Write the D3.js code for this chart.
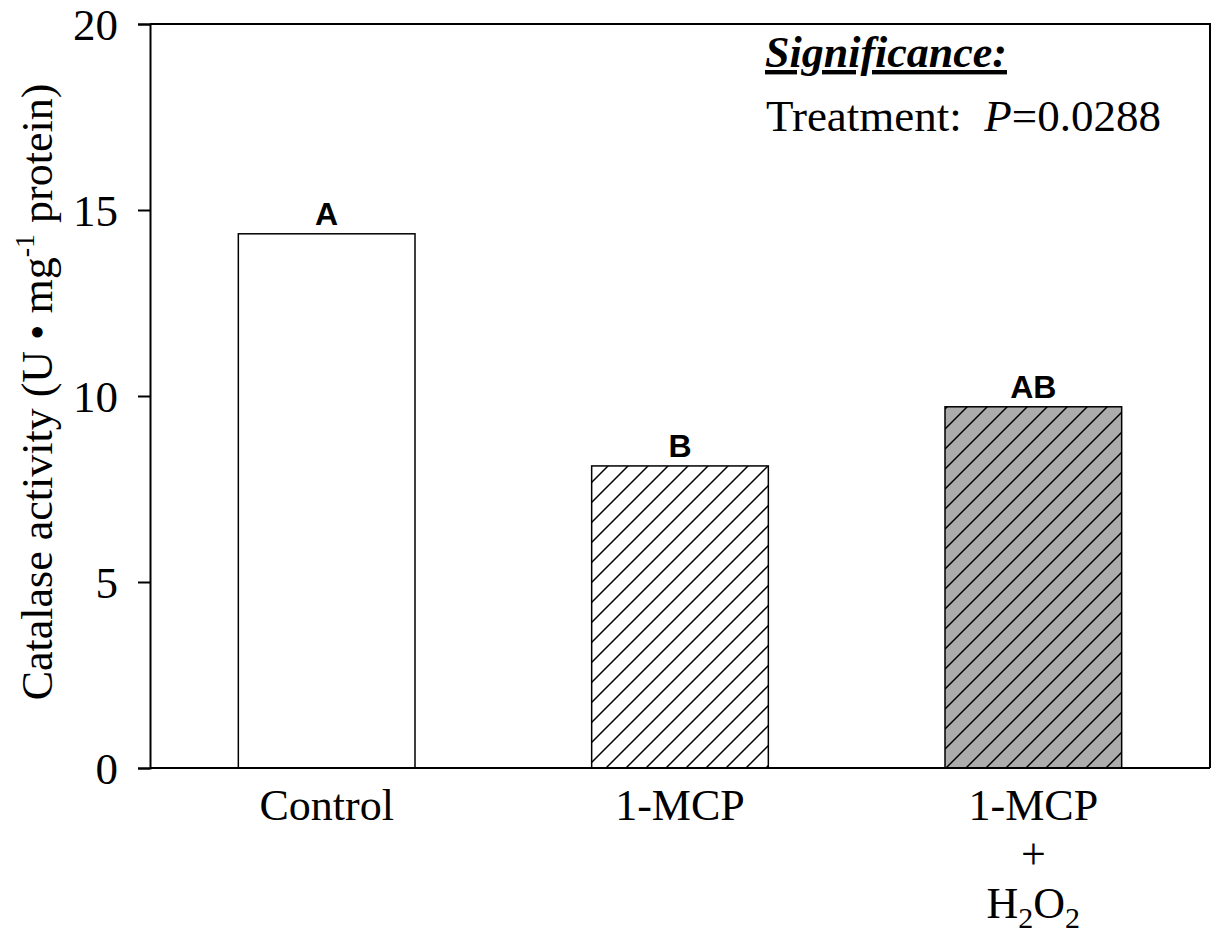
<!DOCTYPE html>
<html>
<head>
<meta charset="utf-8">
<script src="https://cdn.jsdelivr.net/npm/d3@7"></script>
<style>
  body { margin: 0; background: #fff; }
  svg { display: block; }
</style>
</head>
<body>
<div id="chart"></div>
<script>
// Data
const categories = ["Control", "1-MCP", "1-MCP+H2O2"];
const values = [14.36, 8.12, 9.71];
const letters = ["A", "B", "AB"];
const yTicks = [0, 5, 10, 15, 20];

const W = 1212, H = 936;
const margin = { top: 24, right: 2, bottom: 168, left: 150 };
const width = W - margin.left - margin.right;
const height = H - margin.top - margin.bottom;
const serif = "'Liberation Serif', 'Times New Roman', serif";
const sans = "'Liberation Sans', Arial, sans-serif";

const svg = d3.select("#chart").append("svg")
  .attr("width", W)
  .attr("height", H);

// Hatch patterns
const defs = svg.append("defs");
function hatch(id, bg) {
  const p = defs.append("pattern")
    .attr("id", id)
    .attr("patternUnits", "userSpaceOnUse")
    .attr("width", 20)
    .attr("height", 20);
  p.append("rect").attr("width", 20).attr("height", 20).attr("fill", bg);
  p.append("path")
    .attr("d", "M0,20 L20,0 M-5,5 L5,-5 M15,25 L25,15")
    .attr("stroke", "#000")
    .attr("stroke-width", 1.5);
}
hatch("hatchWhite", "#fff");
hatch("hatchGrey", "#acacac");
const fills = ["#fff", "url(#hatchWhite)", "url(#hatchGrey)"];

const g = svg.append("g")
  .attr("transform", `translate(${margin.left},${margin.top})`);

const x = d3.scaleBand()
  .domain(categories)
  .range([0, width])
  .paddingInner(0.5)
  .paddingOuter(0.25);

const y = d3.scaleLinear()
  .domain([0, 20])
  .range([height, 0]);

// Bars
g.selectAll(".bar")
  .data(categories)
  .enter().append("rect")
  .attr("class", "bar")
  .attr("x", d => x(d))
  .attr("y", (d, i) => y(values[i]))
  .attr("width", x.bandwidth())
  .attr("height", (d, i) => y(0) - y(values[i]))
  .attr("fill", (d, i) => fills[i])
  .attr("stroke", "#000")
  .attr("stroke-width", 1.5);

// Significance letters
g.selectAll(".letter")
  .data(categories)
  .enter().append("text")
  .attr("class", "letter")
  .attr("x", d => x(d) + x.bandwidth() / 2)
  .attr("y", (d, i) => y(values[i]) - 9)
  .attr("text-anchor", "middle")
  .style("font-family", sans)
  .style("font-weight", "bold")
  .style("font-size", "32px")
  .text((d, i) => letters[i]);

// Frame (top + right)
g.append("path")
  .attr("d", `M0,0 H${width} V${height}`)
  .attr("fill", "none")
  .attr("stroke", "#000")
  .attr("stroke-width", 2);

// Y axis
const yAxis = g.append("g")
  .call(d3.axisLeft(y).tickValues(yTicks).tickSize(12).tickPadding(20));
yAxis.select(".domain").attr("stroke-width", 2);
yAxis.selectAll(".tick line").attr("stroke-width", 2);
yAxis.selectAll("text")
  .style("font-family", serif)
  .style("font-size", "45px")
  .attr("dy", "0.35em")
  .attr("fill", "#000");

// X axis line
g.append("line")
  .attr("x1", 0).attr("x2", width)
  .attr("y1", height).attr("y2", height)
  .attr("stroke", "#000")
  .attr("stroke-width", 2);

// X category labels
const xl = g.append("g")
  .style("font-family", serif)
  .style("font-size", "44px")
  .attr("text-anchor", "middle");

xl.append("text")
  .attr("x", x("Control") + x.bandwidth() / 2)
  .attr("y", height + 52)
  .text("Control");

xl.append("text")
  .attr("x", x("1-MCP") + x.bandwidth() / 2)
  .attr("y", height + 52)
  .text("1-MCP");

const cx3 = x("1-MCP+H2O2") + x.bandwidth() / 2;
xl.append("text").attr("x", cx3).attr("y", height + 101).text("+");
xl.append("text").attr("x", cx3).attr("y", height + 52).text("1-MCP");
const h2o2 = xl.append("text").attr("x", cx3).attr("y", height + 150);
h2o2.append("tspan").text("H");
h2o2.append("tspan").attr("dy", 10).style("font-size", "30px").text("2");
h2o2.append("tspan").attr("dy", -10).text("O");
h2o2.append("tspan").attr("dy", 10).style("font-size", "30px").text("2");

// Y axis title
const yt = svg.append("text")
  .attr("transform", `translate(52,${margin.top + height / 2 - 4}) rotate(-90)`)
  .attr("text-anchor", "middle")
  .style("font-family", serif)
  .style("font-size", "44px");
yt.append("tspan").text("Catalase activity (U \u2022 mg");
yt.append("tspan").attr("dy", -18).style("font-size", "28px").text("-1");
yt.append("tspan").attr("dy", 18).text(" protein)");

// Significance note
svg.append("text")
  .attr("x", 765)
  .attr("y", 67)
  .style("font-family", serif)
  .style("font-size", "44px")
  .style("font-weight", "bold")
  .style("font-style", "italic")
  .style("text-decoration", "underline")
  .text("Significance:");

const tr = svg.append("text")
  .attr("x", 766)
  .attr("y", 131)
  .style("font-family", serif)
  .style("font-size", "45px")
  .attr("xml:space", "preserve");
tr.append("tspan").text("Treatment:  ");
tr.append("tspan").style("font-style", "italic").text("P");
tr.append("tspan").text("=0.0288");
</script>
</body>
</html>
